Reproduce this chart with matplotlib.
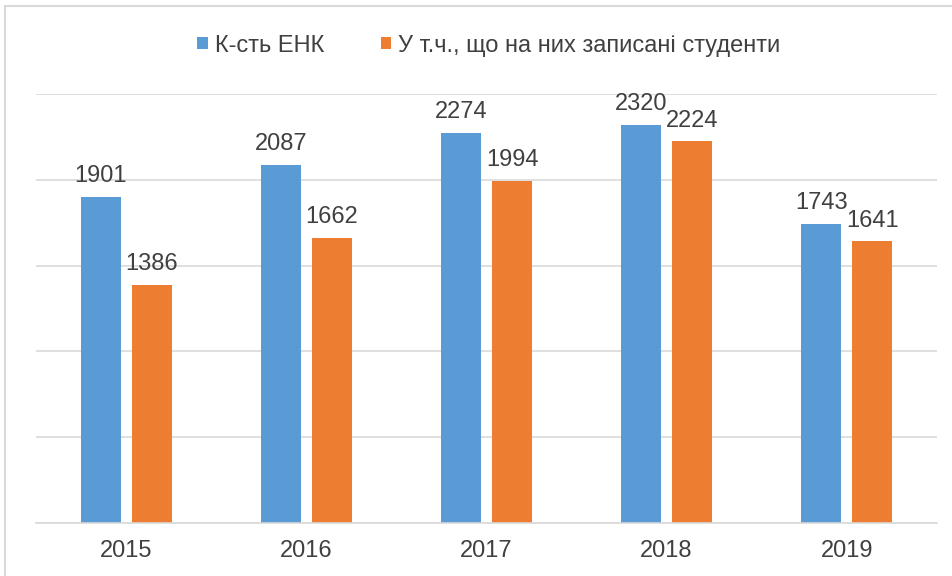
import numpy as np
import matplotlib.pyplot as plt
from matplotlib.patches import Rectangle

plt.rcParams["font.family"] = ["Liberation Sans", "DejaVu Sans"]

years = ["2015", "2016", "2017", "2018", "2019"]
enk_count = [1901, 2087, 2274, 2320, 1743]
with_students = [1386, 1662, 1994, 2224, 1641]
series_names = ["К-сть ЕНК", "У т.ч., що на них записані студенти"]

blue = "#5b9bd5"
orange = "#ed7d31"
text_color = "#404040"
grid_color = "#d9d9d9"

fig = plt.figure(figsize=(9.53, 5.76), dpi=100)
ax = fig.add_axes([0.038, 0.092, 0.945, 0.745])

x = np.arange(len(years))
width = 0.222
offset = 0.142

bars1 = ax.bar(x - offset, enk_count, width, color=blue, label=series_names[0])
bars2 = ax.bar(x + offset, with_students, width, color=orange, label=series_names[1])

for bars in (bars1, bars2):
    ax.bar_label(bars, padding=7, fontsize=17, color=text_color)

ax.set_xlim(-0.5, len(years) - 0.5)
ax.set_ylim(0, 2500)
ax.set_yticks(np.arange(0, 2501, 500))
ax.yaxis.grid(True, color=grid_color, linewidth=1.2)
ax.set_axisbelow(True)
ax.tick_params(axis="y", left=False, labelleft=False)
ax.tick_params(axis="x", bottom=False, labelsize=17, labelcolor=text_color, pad=9)
ax.set_xticks(x)
ax.set_xticklabels(years)

for side in ("top", "right", "left"):
    ax.spines[side].set_visible(False)
ax.spines["bottom"].set_color(grid_color)
ax.spines["bottom"].set_linewidth(1.2)

fig.legend(
    loc="center",
    bbox_to_anchor=(0.513, 0.921),
    ncol=2,
    frameon=False,
    fontsize=17,
    labelcolor=text_color,
    handlelength=0.45,
    handleheight=0.45,
    handletextpad=0.3,
    columnspacing=2.4,
)

fig.patches.append(
    Rectangle((0.005, -0.05), 1.1, 1.04, transform=fig.transFigure,
              fill=False, edgecolor="#d9d9d9", linewidth=1.5)
)

fig.savefig("out.png", dpi=100)
